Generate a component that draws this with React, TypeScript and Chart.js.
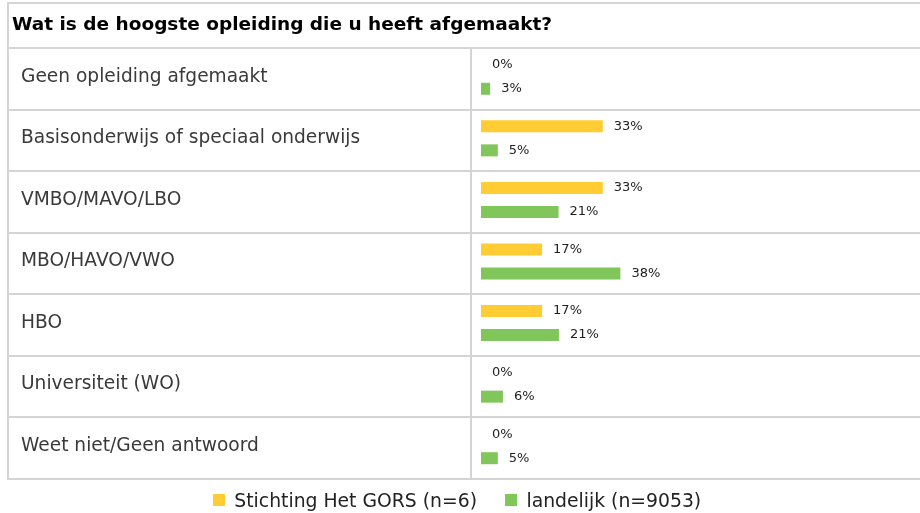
import React, { useEffect, useRef } from 'react';
import { Chart, registerables } from 'chart.js';

Chart.register(...registerables);

const chartTitle = 'Wat is de hoogste opleiding die u heeft afgemaakt?';
const categories = [
  'Geen opleiding afgemaakt',
  'Basisonderwijs of speciaal onderwijs',
  'VMBO/MAVO/LBO',
  'MBO/HAVO/VWO',
  'HBO',
  'Universiteit (WO)',
  'Weet niet/Geen antwoord',
];
const seriesNames = ['Stichting Het GORS (n=6)', 'landelijk (n=9053)'];
const gorsValues = [0, 33.3, 33.3, 16.7, 16.7, 0, 0];
const landelijkValues = [2.5, 4.6, 21.2, 38.1, 21.3, 6.0, 4.6];
const seriesColors = ['#ffcc33', '#80c65a'];

const FONT = '"DejaVu Sans", Verdana, sans-serif';
const LINE = '#d4d4d4';

const tablePlugin = {
  id: 'tableDecor',
  beforeDraw(chart: any) {
    const { ctx, chartArea: area } = chart;
    const y = chart.scales.y;
    const n = chart.data.labels.length;
    const step = (area.bottom - area.top) / n;
    ctx.save();
    ctx.fillStyle = '#ffffff';
    ctx.fillRect(0, 0, chart.width, chart.height);
    ctx.strokeStyle = LINE;
    ctx.lineWidth = 2;
    const left = 8;
    const right = chart.width;
    const topLine = 3;
    const rowLines: number[] = [];
    for (let i = 0; i < n; i++) rowLines.push(Math.round(y.getPixelForValue(i) - step / 2 + 2));
    rowLines.push(Math.round(y.getPixelForValue(n - 1) + step / 2 + 2));
    ctx.beginPath();
    ctx.moveTo(left, topLine);
    ctx.lineTo(right, topLine);
    rowLines.forEach((py) => {
      ctx.moveTo(left - 1, py);
      ctx.lineTo(right, py);
    });
    ctx.moveTo(left, topLine - 1);
    ctx.lineTo(left, rowLines[n] + 1);
    const divX = Math.round(area.left - 10);
    ctx.moveTo(divX, rowLines[0]);
    ctx.lineTo(divX, rowLines[n]);
    ctx.stroke();

    ctx.fillStyle = '#000000';
    ctx.font = `bold 18.5px ${FONT}`;
    ctx.textAlign = 'left';
    ctx.textBaseline = 'alphabetic';
    ctx.fillText(chartTitle, 12, 30);
    ctx.restore();
  },
  afterDatasetsDraw(chart: any) {
    const { ctx } = chart;
    ctx.save();
    ctx.font = `13px ${FONT}`;
    ctx.fillStyle = '#222222';
    ctx.textAlign = 'left';
    ctx.textBaseline = 'middle';
    chart.data.datasets.forEach((ds: any, di: number) => {
      const meta = chart.getDatasetMeta(di);
      meta.data.forEach((el: any, i: number) => {
        const v = ds.data[i];
        ctx.fillText(`${Math.round(v)}%`, el.x + 11, el.y);
      });
    });
    ctx.restore();
  },
  afterDraw(chart: any) {
    const { ctx } = chart;
    ctx.save();
    ctx.font = `18.8px ${FONT}`;
    ctx.textAlign = 'left';
    ctx.textBaseline = 'alphabetic';
    const box = 12;
    const gapText = 9.5;
    const gapItems = 28;
    const items = chart.data.datasets.map((ds: any) => ({
      text: ds.label,
      color: ds.backgroundColor,
      w: box + gapText + ctx.measureText(ds.label).width,
    }));
    const total = items.reduce((s: number, it: any) => s + it.w, 0) + gapItems * (items.length - 1);
    let x = 457 - total / 2;
    const baseline = 506.5;
    items.forEach((it: any) => {
      ctx.fillStyle = it.color;
      ctx.fillRect(Math.round(x), 494, box, box);
      ctx.fillStyle = '#222222';
      ctx.fillText(it.text, x + box + gapText, baseline);
      x += it.w + gapItems;
    });
    ctx.restore();
  },
};

export default function App() {
  const ref = useRef<HTMLCanvasElement | null>(null);
  useEffect(() => {
    if (!ref.current) return;
    const chart = new Chart(ref.current, {
      type: 'bar',
      data: {
        labels: categories,
        datasets: [
          {
            label: seriesNames[0],
            data: gorsValues,
            backgroundColor: seriesColors[0],
            categoryPercentage: 0.78,
            barPercentage: 0.5,
          },
          {
            label: seriesNames[1],
            data: landelijkValues,
            backgroundColor: seriesColors[1],
            categoryPercentage: 0.78,
            barPercentage: 0.5,
          },
        ],
      },
      options: {
        indexAxis: 'y',
        responsive: false,
        animation: false,
        layout: { padding: { left: 21, right: 0, top: 46, bottom: 36 } },
        plugins: {
          legend: { display: false },
          title: { display: false },
          tooltip: { enabled: false },
        },
        scales: {
          x: { display: false, min: 0, max: 120 },
          y: {
            grid: { display: false },
            border: { display: false },
            ticks: {
              crossAlign: 'far',
              color: '#3a3a3a',
              autoSkip: false,
              font: { family: FONT, size: 18.6 },
            },
            afterFit: (s: any) => {
              s.width = 460;
            },
          },
        },
      },
      plugins: [tablePlugin],
    } as any);
    return () => chart.destroy();
  }, []);
  return (
    <div style={{ position: 'absolute', left: 0, top: 0, width: 920, height: 513 }}>
      <canvas ref={ref} width={920} height={513} />
    </div>
  );
}
